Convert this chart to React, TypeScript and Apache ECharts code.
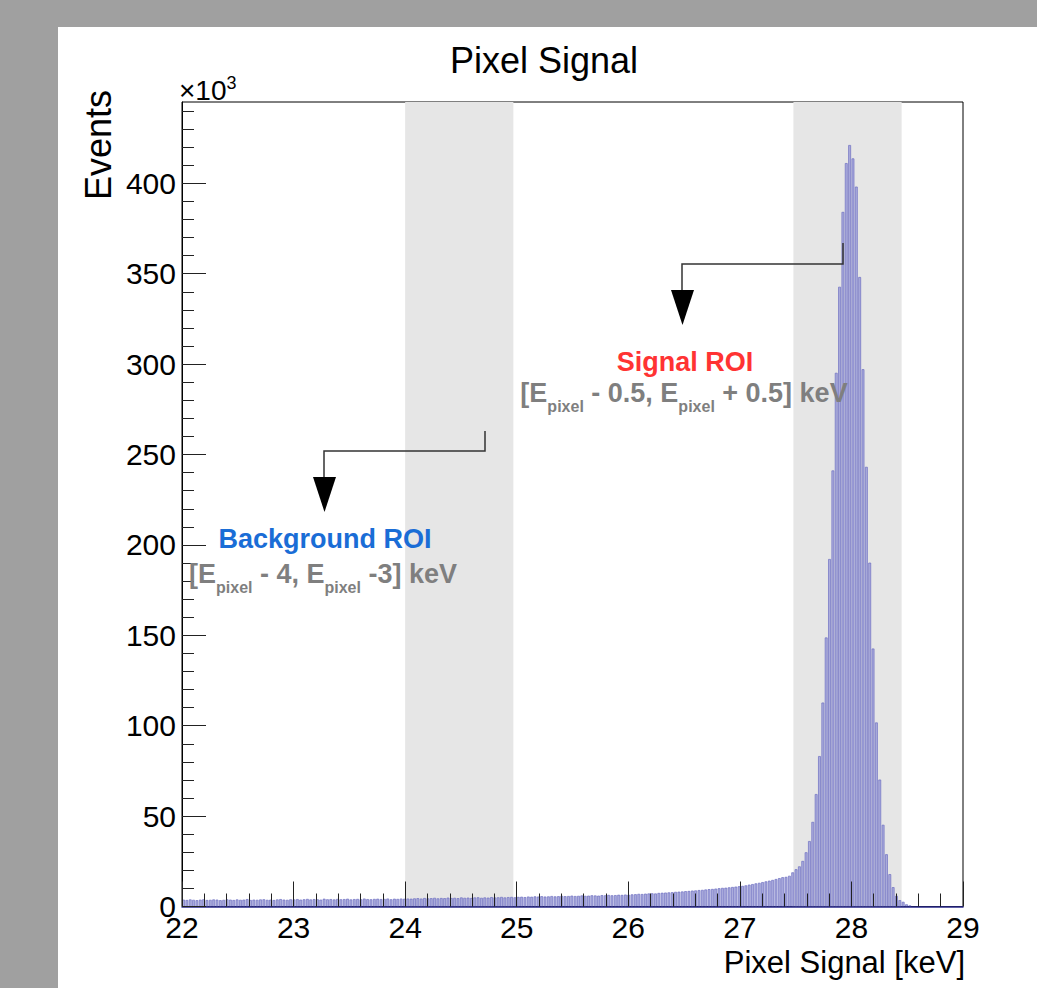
import React, { useEffect, useRef } from "react";
import * as echarts from "echarts";

// Histogram binning (keV)
const binLow = 22;
const binWidth = 0.03;

// Counts (x10^3 events) per 0.03 keV bin
const counts22to23 = [3.6, 3.4, 3.7, 3.5, 3.3, 3.6, 3.8, 3.4, 3.5, 3.7, 3.6, 3.3, 3.5, 3.8, 3.6, 3.4, 3.7, 3.5, 3.6, 3.9, 3.4, 3.6, 3.5, 3.7, 3.8, 3.5, 3.6, 3.4, 3.7, 3.9, 3.6, 3.5, 3.8];
const counts23to24 = [3.7, 3.9, 3.6, 3.8, 4.0, 3.7, 3.9, 3.8, 3.6, 4.1, 3.8, 3.9, 3.7, 4.0, 3.8, 3.9, 4.1, 3.7, 3.9, 4.0, 3.8, 4.2, 3.9, 3.8, 4.0, 4.1, 3.9, 4.0, 4.2, 3.8, 4.1, 4.0, 4.2, 4.1];
const counts24to25 = [4.2, 4.1, 4.3, 4.4, 4.2, 4.5, 4.3, 4.4, 4.6, 4.3, 4.5, 4.4, 4.7, 4.5, 4.6, 4.4, 4.8, 4.6, 4.7, 4.5, 4.8, 4.9, 4.6, 4.8, 4.7, 5.0, 4.8, 4.9, 5.1, 4.8, 5.0, 5.1, 4.9];
const counts25to26 = [5.1, 5.2, 5.0, 5.3, 5.2, 5.4, 5.3, 5.5, 5.3, 5.4, 5.6, 5.4, 5.5, 5.7, 5.5, 5.6, 5.8, 5.6, 5.7, 5.9, 5.7, 5.8, 6.0, 5.9, 5.8, 6.1, 6.0, 6.2, 6.0, 6.1, 6.3, 6.2, 6.4, 6.3];
const counts26to27 = [6.5, 6.6, 6.8, 6.7, 6.9, 7.0, 7.1, 7.0, 7.3, 7.4, 7.5, 7.6, 7.7, 7.9, 8.0, 8.1, 8.3, 8.4, 8.6, 8.7, 8.9, 9.0, 9.2, 9.4, 9.5, 9.7, 9.9, 10.1, 10.2, 10.4, 10.6, 10.8, 11.0];
const counts27to27p4 = [11.2, 11.5, 11.9, 12.2, 12.6, 12.9, 13.3, 13.7, 14.1, 14.5, 15.0, 15.5];
const countsPeak = [16, 16.2, 16.8, 18.7, 20.4, 22, 25, 29.8, 36, 46.6, 62, 83, 112.6, 148.6, 192, 241, 295, 342.6, 384, 411, 421, 413.6, 398, 348, 297, 243, 190, 142.5, 101.6, 70, 45, 28.7, 17.7, 10.5, 5.7, 3.3, 2.4, 1.0, 0.4];
const countsTail = [0, 0, 0, 0, 0, 0, 0, 0, 0, 0, 0, 0, 0, 0, 0];

const counts = [
  ...counts22to23,
  ...counts23to24,
  ...counts24to25,
  ...counts25to26,
  ...counts26to27,
  ...counts27to27p4,
  ...countsPeak,
  ...countsTail,
];

// Shaded regions of interest (keV), as drawn
const backgroundRoi = [24.0, 24.97];
const signalRoi = [27.48, 28.45];

// Axes
const xMin = 22;
const xMax = 29;
const yMax = 445;
const yMajorTicks = [0, 50, 100, 150, 200, 250, 300, 350, 400];
const yMinorTicks = [0, 10, 20, 30, 40, 50, 60, 70, 80, 90, 100, 110, 120, 130, 140, 150, 160, 170, 180, 190, 200, 210, 220, 230, 240, 250, 260, 270, 280, 290, 300, 310, 320, 330, 340, 350, 360, 370, 380, 390, 400, 410, 420, 430, 440];

const FONT = "'Liberation Sans', Arial, Helvetica, sans-serif";

export default function App() {
  const ref = useRef<HTMLDivElement>(null);

  useEffect(() => {
    if (!ref.current) return;
    const chart = echarts.init(ref.current, null, { renderer: "svg" });

    const histData = counts.map((c, i) => [binLow + i * binWidth, binLow + (i + 1) * binWidth, c]);
    const bandData = [backgroundRoi, signalRoi].map((b) => [b[0], b[1], yMax]);

    const rangeRich = {
      a: { fontSize: 27, fontWeight: "bold", fontFamily: FONT, fill: "#7f7f7f", lineHeight: 42, verticalAlign: "middle" },
      s: { fontSize: 16, fontWeight: "bold", fontFamily: FONT, fill: "#7f7f7f", lineHeight: 16, verticalAlign: "bottom" },
    };

    chart.setOption({
      animation: false,
      backgroundColor: "#ffffff",
      grid: {
        left: 124,
        top: 75,
        right: 74,
        bottom: 81.5,
        show: true,
        borderColor: "#000",
        borderWidth: 1,
        backgroundColor: "#ffffff",
        containLabel: false,
      },
      xAxis: {
        type: "value",
        min: xMin,
        max: xMax,
        interval: 1,
        z: 10,
        axisLine: { show: true, lineStyle: { color: "#2a2a8a", width: 1.5 } },
        axisTick: { show: true, inside: true, length: 25, lineStyle: { color: "#222", width: 1 } },
        minorTick: { show: true, splitNumber: 5, length: 13, lineStyle: { color: "#222", width: 1 } },
        axisLabel: { fontSize: 30, color: "#000", margin: 6, fontFamily: FONT },
        splitLine: { show: false },
        minorSplitLine: { show: false },
      },
      yAxis: [
        {
          type: "value",
          min: 0,
          max: yMax,
          interval: 50,
          position: "left",
          z: 10,
          axisLine: { show: true, lineStyle: { color: "#000", width: 1 } },
          axisTick: { show: true, inside: true, length: 24, customValues: yMajorTicks, lineStyle: { color: "#222", width: 1 } },
          axisLabel: { fontSize: 30, color: "#000", margin: 6, fontFamily: FONT, customValues: yMajorTicks },
          splitLine: { show: false },
        },
        {
          type: "value",
          min: 0,
          max: yMax,
          position: "left",
          offset: 0,
          z: 10,
          axisLine: { show: false },
          axisTick: { show: true, inside: true, length: 12, customValues: yMinorTicks, lineStyle: { color: "#222", width: 1 } },
          axisLabel: { show: false },
          splitLine: { show: false },
        },
      ],
      series: [
        {
          type: "custom",
          name: "roi",
          z: 1,
          clip: true,
          encode: { x: [0, 1], y: 2 },
          data: bandData,
          renderItem: (params: any, api: any) => {
            const p0 = api.coord([api.value(0), api.value(2)]);
            const p1 = api.coord([api.value(1), 0]);
            return {
              type: "rect",
              shape: { x: p0[0], y: p0[1], width: p1[0] - p0[0], height: p1[1] - p0[1] },
              style: { fill: "#e6e6e6" },
            };
          },
        },
        {
          type: "custom",
          name: "Pixel Signal",
          z: 3,
          clip: true,
          encode: { x: [0, 1], y: 2 },
          data: histData,
          renderItem: (params: any, api: any) => {
            const y = api.value(2);
            if (!(y > 0)) return null;
            const p0 = api.coord([api.value(0), y]);
            const p1 = api.coord([api.value(1), 0]);
            const w = p1[0] - p0[0];
            return {
              type: "rect",
              shape: { x: p0[0] + 0.5, y: p0[1], width: w * 0.62, height: p1[1] - p0[1] },
              style: { fill: "#abacdc", stroke: "#6d6ec2", lineWidth: 0.7 },
            };
          },
        },
      ],
      graphic: [
        {
          type: "text",
          x: 486,
          y: 33,
          style: { text: "Pixel Signal", fontSize: 36, fontFamily: FONT, fill: "#000", align: "center", verticalAlign: "middle" },
        },
        {
          type: "text",
          x: 121,
          y: 79,
          style: {
            text: "{a|×10}{b|3}",
            align: "left",
            verticalAlign: "bottom",
            rich: {
              a: { fontSize: 28, fontFamily: FONT, fill: "#000", lineHeight: 32, verticalAlign: "middle" },
              b: { fontSize: 18, fontFamily: FONT, fill: "#000", lineHeight: 18, verticalAlign: "top" },
            },
          },
        },
        {
          type: "text",
          x: 40,
          y: 118,
          rotation: Math.PI / 2,
          style: { text: "Events", fontSize: 36, fontFamily: FONT, fill: "#000", align: "center", verticalAlign: "middle" },
        },
        {
          type: "text",
          x: 907,
          y: 935,
          style: { text: "Pixel Signal [keV]", fontSize: 31, fontFamily: FONT, fill: "#000", align: "right", verticalAlign: "middle" },
        },
        // Signal ROI annotation
        {
          type: "polyline",
          z: 20,
          shape: { points: [[785, 216], [785, 237], [624, 237], [624, 266]] },
          style: { stroke: "#333", lineWidth: 1.5, fill: null },
        },
        {
          type: "polygon",
          z: 20,
          shape: { points: [[613, 263], [636, 263], [624.5, 298]] },
          style: { fill: "#000" },
        },
        {
          type: "text",
          z: 20,
          x: 627,
          y: 335,
          style: { text: "Signal ROI", fontSize: 27, fontWeight: "bold", fontFamily: FONT, fill: "#ff3333", align: "center", verticalAlign: "middle" },
        },
        {
          type: "text",
          z: 20,
          x: 626,
          y: 366,
          style: {
            text: "{a|[E}{s|pixel}{a| - 0.5, E}{s|pixel}{a| + 0.5] keV}",
            align: "center",
            verticalAlign: "middle",
            rich: rangeRich,
          },
        },
        // Background ROI annotation
        {
          type: "polyline",
          z: 20,
          shape: { points: [[427, 404], [427, 424], [266, 424], [266, 452]] },
          style: { stroke: "#333", lineWidth: 1.5, fill: null },
        },
        {
          type: "polygon",
          z: 20,
          shape: { points: [[255, 450], [278, 450], [266.5, 485]] },
          style: { fill: "#000" },
        },
        {
          type: "text",
          z: 20,
          x: 267,
          y: 512,
          style: { text: "Background ROI", fontSize: 27, fontWeight: "bold", fontFamily: FONT, fill: "#1a6dd6", align: "center", verticalAlign: "middle" },
        },
        {
          type: "text",
          z: 20,
          x: 265,
          y: 547,
          style: {
            text: "{a|[E}{s|pixel}{a| - 4, E}{s|pixel}{a| -3] keV}",
            align: "center",
            verticalAlign: "middle",
            rich: rangeRich,
          },
        },
      ],
    });

    return () => chart.dispose();
  }, []);

  return (
    <div style={{ position: "fixed", left: 0, top: 0, width: 1037, height: 988, background: "#a0a0a0" }}>
      <div ref={ref} style={{ position: "absolute", left: 58, top: 27, width: 979, height: 961, background: "#fff" }} />
    </div>
  );
}
